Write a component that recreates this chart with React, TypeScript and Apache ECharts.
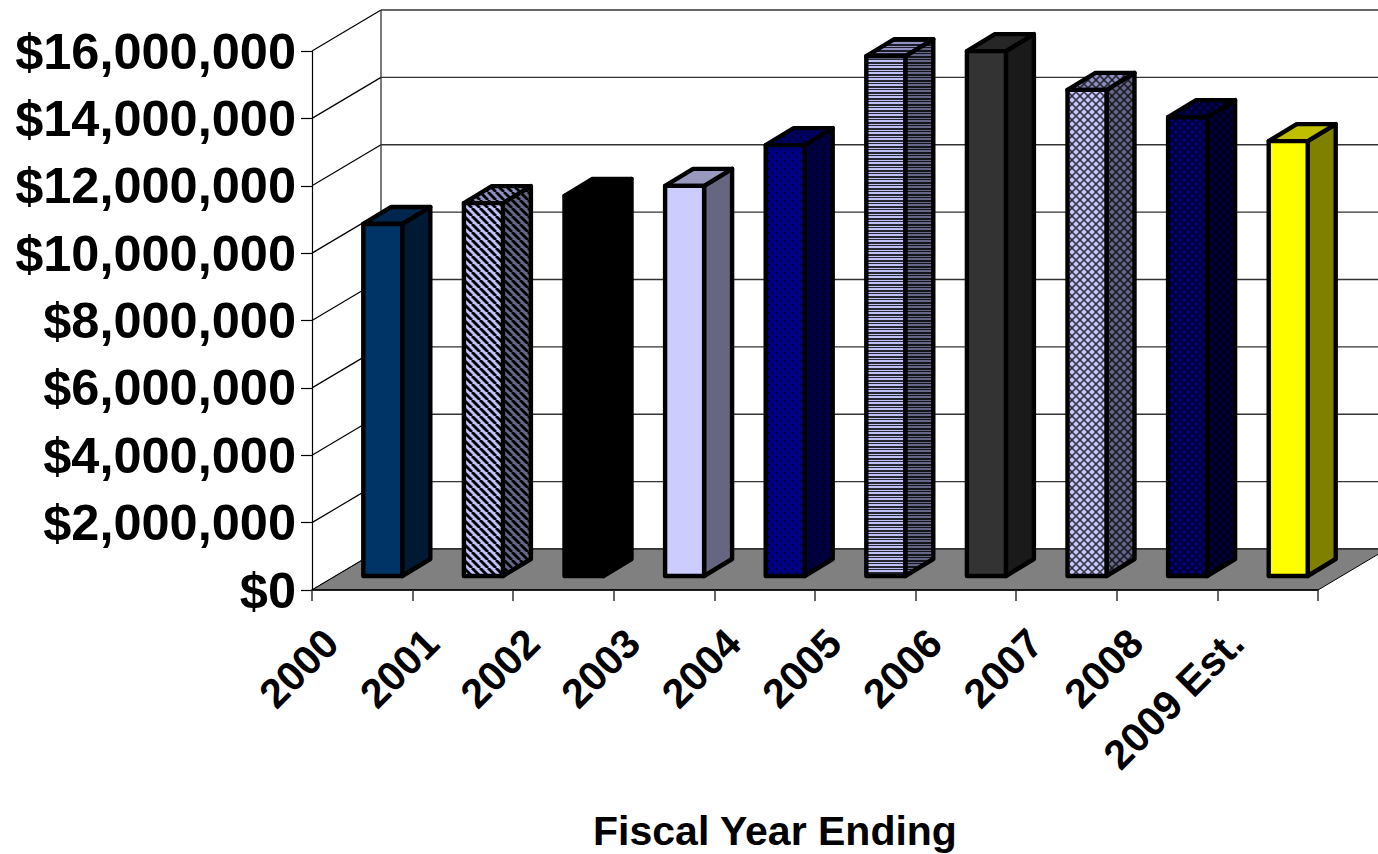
import React, { useEffect, useRef } from "react";
import * as echarts from "echarts";

// Annual figures by fiscal year ending
const categories = ["2000", "2001", "2002", "2003", "2004", "2005", "2006", "2007", "2008", "2009 Est."];
const amounts = [10450000, 11070000, 11280000, 11580000, 12790000, 15430000, 15580000, 14430000, 13620000, 12910000];
const yTicks = [0, 2000000, 4000000, 6000000, 8000000, 10000000, 12000000, 14000000, 16000000];

// Column shade per year: front, top and side faces, plus the kind of hatch
const frontColors = ["#003366", "#c0c0f8", "#000000", "#ccccff", "#000080", "#c0c0f8", "#333333", "#c8c8ff", "#000080", "#ffff00"];
const topColors = ["#00264d", "#9090c0", "#000000", "#9999bf", "#000060", "#9090c0", "#262626", "#9090c0", "#000060", "#bfbf00"];
const sideColors = ["#001a33", "#666688", "#000000", "#666680", "#000040", "#666688", "#1a1a1a", "#666688", "#000040", "#808000"];
const hatches = ["", "diagonal", "", "", "dots", "horizontal", "", "lattice", "lattice", ""];

// Projection of the 3D box, in pixels
const WALL_DX = 69;
const WALL_DY = 41;
const BAR_INSET_DX = 1;
const BAR_FLOOR_DY = 14;
const BAR_WIDTH = 39;
const BAR_DX = 28;
const BAR_DY = 17;

function makeHatch(kind: string, color: string) {
  const size = kind === "diagonal" ? 8 : kind === "horizontal" ? 6 : 8;
  const canvas = document.createElement("canvas");
  canvas.width = size;
  canvas.height = size;
  const ctx = canvas.getContext("2d")!;
  ctx.fillStyle = color;
  ctx.fillRect(0, 0, size, size);
  ctx.fillStyle = "#000000";
  ctx.strokeStyle = "#000000";
  if (kind === "diagonal") {
    ctx.lineWidth = 2.8;
    for (let i = -size; i <= size; i += size) {
      ctx.beginPath();
      ctx.moveTo(i, 0);
      ctx.lineTo(i + size, size);
      ctx.stroke();
    }
  } else if (kind === "horizontal") {
    ctx.globalAlpha = 0.8;
    ctx.fillRect(0, 2, size, 2);
    ctx.fillRect(0, 5, size, 1);
  } else if (kind === "lattice") {
    ctx.globalAlpha = 0.7;
    ctx.lineWidth = 1.6;
    for (let i = -size; i <= size; i += size) {
      ctx.beginPath();
      ctx.moveTo(i, 0);
      ctx.lineTo(i + size, size);
      ctx.moveTo(i + size, 0);
      ctx.lineTo(i, size);
      ctx.stroke();
    }
  } else if (kind === "dots") {
    ctx.globalAlpha = 0.45;
    ctx.fillRect(0, 0, 2, 2);
    ctx.fillRect(4, 4, 2, 2);
  }
  return { image: canvas, repeat: "repeat", imageWidth: size, imageHeight: size };
}

function paint(color: string, hatch: string): any {
  return hatch ? makeHatch(hatch, color) : color;
}

function renderFloor(params: any, api: any) {
  const box = params.coordSys;
  const y = box.y + box.height;
  const right = box.x + box.width;
  return {
    type: "polygon",
    shape: {
      points: [
        [box.x, y],
        [right, y],
        [right + WALL_DX, y - WALL_DY],
        [box.x + WALL_DX, y - WALL_DY],
      ],
    },
    style: { fill: "#808080", stroke: "#000000", lineWidth: 1 },
  };
}

function renderWallLine(params: any, api: any) {
  const box = params.coordSys;
  const y = api.coord([0, api.value(0)])[1];
  const backX = box.x + WALL_DX;
  return {
    type: "group",
    children: [
      {
        type: "line",
        shape: { x1: box.x, y1: y, x2: backX, y2: y - WALL_DY },
        style: { stroke: "#000000", lineWidth: 1.2 },
      },
      {
        type: "line",
        shape: { x1: backX, y1: y - WALL_DY, x2: box.x + box.width + WALL_DX, y2: y - WALL_DY },
        style: { stroke: "#333333", lineWidth: 1.3 },
      },
    ],
  };
}

function renderBackEdge(params: any, api: any) {
  const box = params.coordSys;
  return {
    type: "line",
    shape: {
      x1: box.x + WALL_DX,
      y1: box.y - WALL_DY,
      x2: box.x + WALL_DX,
      y2: box.y + box.height - WALL_DY,
    },
    style: { stroke: "#333333", lineWidth: 1.3 },
  };
}

function renderColumn(params: any, api: any) {
  const index = api.value(0);
  const center = api.coord([index, 0])[0];
  const base = api.coord([index, 0])[1] - BAR_FLOOR_DY;
  const top = api.coord([index, api.value(1)])[1] - BAR_FLOOR_DY;
  const left = center + BAR_INSET_DX;
  const right = left + BAR_WIDTH;
  const outline = { stroke: "#000000", lineWidth: 4.4, lineJoin: "round" };
  const hatch = hatches[index];
  return {
    type: "group",
    children: [
      {
        type: "polygon",
        shape: { points: [[right, top], [right + BAR_DX, top - BAR_DY], [right + BAR_DX, base - BAR_DY], [right, base]] },
        style: { ...outline, fill: paint(sideColors[index], hatch) },
      },
      {
        type: "polygon",
        shape: { points: [[left, top], [left + BAR_DX, top - BAR_DY], [right + BAR_DX, top - BAR_DY], [right, top]] },
        style: { ...outline, fill: paint(topColors[index], hatch) },
      },
      {
        type: "polygon",
        shape: { points: [[left, top], [right, top], [right, base], [left, base]] },
        style: { ...outline, fill: paint(frontColors[index], hatch) },
      },
    ],
  };
}

export default function App() {
  const ref = useRef<HTMLDivElement>(null);

  useEffect(() => {
    const chart = echarts.init(ref.current!, null, { renderer: "svg" });
    chart.setOption({
      animation: false,
      backgroundColor: "#ffffff",
      textStyle: { fontFamily: "'Liberation Sans', Arial, sans-serif" },
      grid: { left: 312, right: 60, top: 51, bottom: 264, containLabel: false, outerBoundsMode: "none" },
      xAxis: {
        type: "category",
        data: categories,
        z: 5,
        name: "Fiscal Year Ending",
        nameLocation: "middle",
        nameGap: 220,
        nameTextStyle: {
          fontSize: 41,
          fontWeight: "bold",
          color: "#000000",
          fontFamily: "'Liberation Sans', Arial, sans-serif",
          padding: [0, 80, 0, 0],
        },
        axisLine: { onZero: false, lineStyle: { color: "#000000", width: 1.5 } },
        axisTick: { show: true, alignWithLabel: false, length: 11, lineStyle: { color: "#333333", width: 1.5 } },
        axisLabel: {
          interval: 0,
          rotate: 45,
          margin: 15,
          padding: [0, 44, 0, 0],
          hideOverlap: false,
          fontSize: 41,
          fontWeight: "bold",
          color: "#000000",
          fontFamily: "'Liberation Sans', Arial, sans-serif",
        },
      },
      yAxis: {
        type: "value",
        min: 0,
        max: 16000000,
        interval: 2000000,
        z: 5,
        axisLine: { show: true, lineStyle: { color: "#000000", width: 1.2 } },
        axisTick: { show: true, length: 11, lineStyle: { color: "#000000", width: 1.2 } },
        splitLine: { show: false },
        axisLabel: {
          margin: 16,
          fontSize: 50.5,
          fontWeight: "bold",
          color: "#000000",
          fontFamily: "'Liberation Sans', Arial, sans-serif",
          formatter: (v: number) => "$" + v.toLocaleString("en-US"),
        },
      },
      series: [
        { type: "custom", coordinateSystem: "cartesian2d", z: 1, clip: false, renderItem: renderWallLine, encode: { y: 0 }, data: yTicks.map((t) => [t]) },
        { type: "custom", coordinateSystem: "cartesian2d", z: 1, clip: false, renderItem: renderBackEdge, data: [[0]] },
        { type: "custom", coordinateSystem: "cartesian2d", z: 2, clip: false, renderItem: renderFloor, data: [[0]] },
        {
          type: "custom",
          coordinateSystem: "cartesian2d",
          z: 3,
          clip: false,
          renderItem: renderColumn,
          encode: { x: 0, y: 1 },
          data: amounts.map((v, i) => [i, v]),
        },
      ],
    });
    return () => chart.dispose();
  }, []);

  return <div ref={ref} style={{ position: "fixed", left: 0, top: 0, width: 1378, height: 854 }} />;
}
